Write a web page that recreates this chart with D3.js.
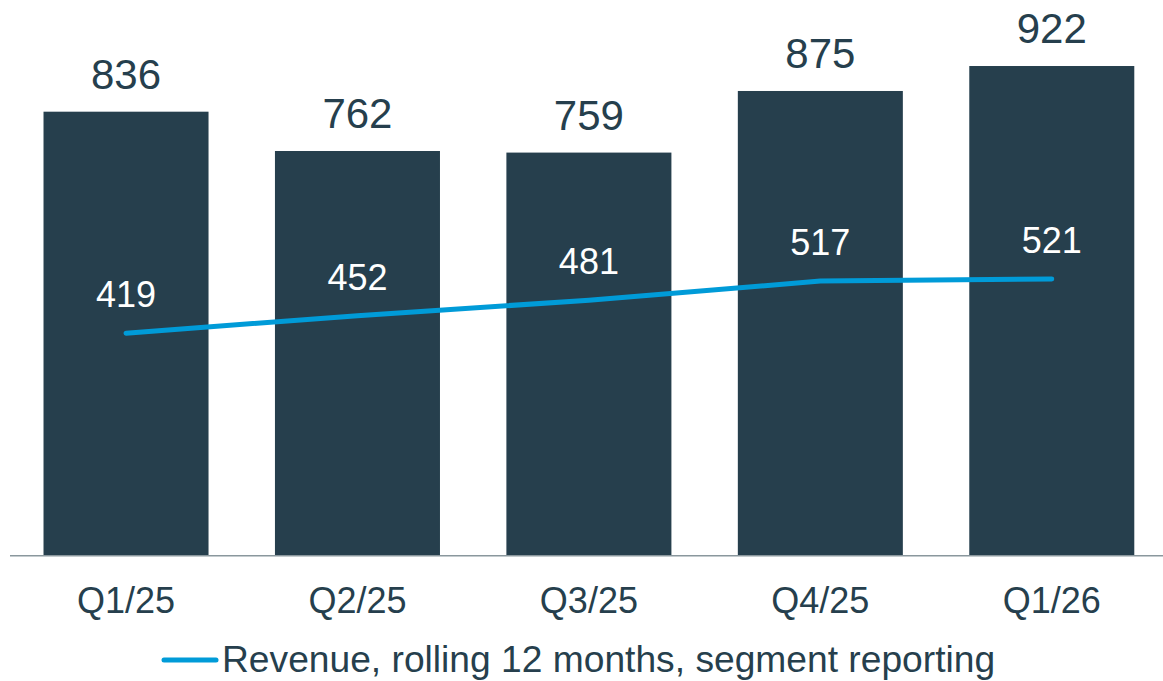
<!DOCTYPE html>
<html>
<head>
<meta charset="utf-8">
<script src="https://cdn.jsdelivr.net/npm/d3@7"></script>
<style>
  html, body { margin: 0; padding: 0; background: #fff; }
  svg { display: block; font-family: "Liberation Sans", Arial, sans-serif; }
</style>
</head>
<body>
<svg id="chart"></svg>
<script>
const quarters = ["Q1/25", "Q2/25", "Q3/25", "Q4/25", "Q1/26"];
const quarterValues = [836, 762, 759, 875, 922];
const rollingRevenue = [419, 452, 481, 517, 521];
const legendLabel = "Revenue, rolling 12 months, segment reporting";

const WIDTH = 1163, HEIGHT = 681;
const BAR_COLOR = "#263f4d";
const LINE_COLOR = "#009bd8";
const BASELINE = 555.7;

const svg = d3.select("#chart")
    .attr("width", WIDTH)
    .attr("height", HEIGHT);

const x = d3.scaleBand()
    .domain(quarters)
    .range([10.3, 1167.5])
    .paddingInner(0.287)
    .paddingOuter(0.1435);

const y = d3.scaleLinear()
    .domain([0, 1046.3])
    .range([BASELINE, 0]);

const data = quarters.map((q, i) => ({ q, bar: quarterValues[i], line: rollingRevenue[i] }));

// bars
svg.selectAll(".bar")
    .data(data)
    .enter()
    .append("rect")
    .attr("class", "bar")
    .attr("x", d => x(d.q))
    .attr("width", x.bandwidth())
    .attr("y", d => y(d.bar))
    .attr("height", d => BASELINE - y(d.bar))
    .attr("fill", BAR_COLOR);

// bar labels
svg.selectAll(".bar-label")
    .data(data)
    .enter()
    .append("text")
    .attr("x", d => x(d.q) + x.bandwidth() / 2)
    .attr("y", d => y(d.bar) - 23)
    .attr("text-anchor", "middle")
    .attr("font-size", 42)
    .attr("fill", BAR_COLOR)
    .text(d => d.bar);

// x axis line
svg.append("line")
    .attr("x1", 10)
    .attr("x2", WIDTH)
    .attr("y1", BASELINE)
    .attr("y2", BASELINE)
    .attr("stroke", "#8a979d")
    .attr("stroke-width", 1.5);

// category labels
svg.selectAll(".cat")
    .data(quarters)
    .enter()
    .append("text")
    .attr("x", d => x(d) + x.bandwidth() / 2)
    .attr("y", BASELINE + 57)
    .attr("text-anchor", "middle")
    .attr("font-size", 36)
    .attr("fill", BAR_COLOR)
    .text(d => d);

// line
const line = d3.line()
    .x(d => x(d.q) + x.bandwidth() / 2)
    .y(d => y(d.line));

svg.append("path")
    .datum(data)
    .attr("d", line)
    .attr("fill", "none")
    .attr("stroke", LINE_COLOR)
    .attr("stroke-width", 5)
    .attr("stroke-linecap", "round")
    .attr("stroke-linejoin", "round");

svg.selectAll(".line-label")
    .data(data)
    .enter()
    .append("text")
    .attr("x", d => x(d.q) + x.bandwidth() / 2)
    .attr("y", d => y(d.line) - 26)
    .attr("text-anchor", "middle")
    .attr("font-size", 36)
    .attr("fill", "#fff")
    .text(d => d.line);

// legend
const legend = svg.append("g");
legend.append("line")
    .attr("x1", 164).attr("x2", 216)
    .attr("y1", 660).attr("y2", 660)
    .attr("stroke", LINE_COLOR)
    .attr("stroke-width", 5)
    .attr("stroke-linecap", "round");
legend.append("text")
    .attr("x", 222)
    .attr("y", 672)
    .attr("font-size", 37.2)
    .attr("fill", BAR_COLOR)
    .text(legendLabel);
</script>
</body>
</html>
